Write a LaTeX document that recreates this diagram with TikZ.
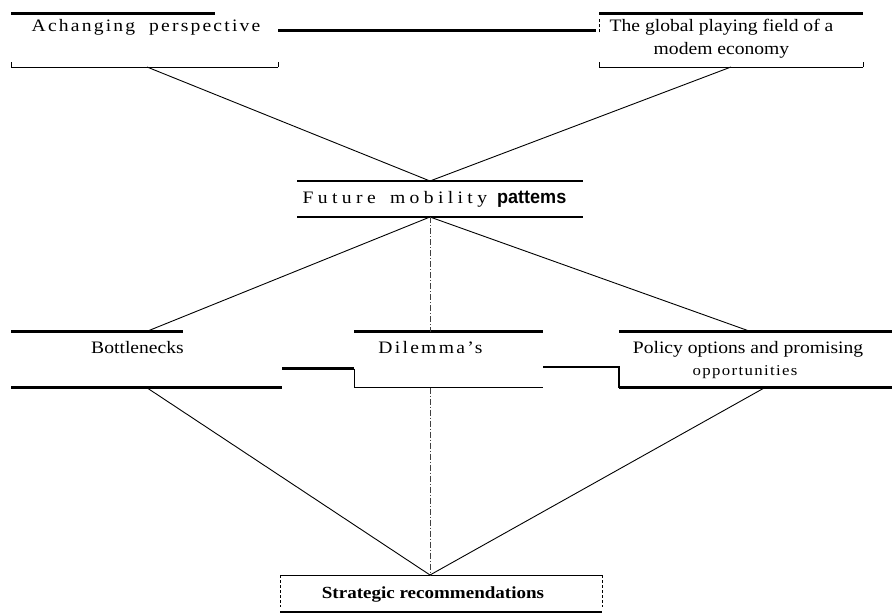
\documentclass[tikz,border=0pt]{standalone}
\usepackage{fontspec}
\setmainfont{Liberation Serif}[FakeStretch=1.12]
\newfontfamily\pattfont{Liberation Sans}[FakeStretch=0.95]

\tikzset{
  frame/.style={draw=none, rectangle, inner sep=0pt, outer sep=0pt},
  heavyrule/.style={line width=2.6pt},
  lightrule/.style={line width=0.8pt},
  tick/.style={line width=0.6pt},
  link/.style={line width=0.9pt},
  axis/.style={line width=0.5pt, black!75, dash pattern=on 6pt off 2pt on 1pt off 2pt},
  label/.style={inner sep=0pt, anchor=base, font=\fontsize{17.5}{22.6}\selectfont}
}

\begin{document}
\begin{tikzpicture}[x=1pt, y=-1pt]
  \useasboundingbox (0,0) rectangle (892,613);

  % Box frames (empty, only for anchors)
  \node[frame, minimum width=267pt, minimum height=53.5pt] (persp)   at (144.5,40.25) {};
  \node[frame, minimum width=264pt, minimum height=53.5pt] (global)  at (731,40.25) {};
  \node[frame, minimum width=286pt, minimum height=36pt]   (future)  at (440,199) {};
  \node[frame, minimum width=271pt, minimum height=56pt]   (bottle)  at (146.5,359.5) {};
  \node[frame, minimum width=189pt, minimum height=56pt]   (dilemma) at (448.5,359.5) {};
  \node[frame, minimum width=273pt, minimum height=56pt]   (policy)  at (755.5,359.5) {};
  \node[frame, minimum width=322pt, minimum height=37pt]   (strat)   at (441,593.5) {};

  % Texts
  \node[label] (persp-txt) at (146,31.7)
    {\addfontfeature{LetterSpace=12.5}Achanging\hspace{14pt}perspective};
  % (base of a two-line node sits on its last line)
  \node[label, align=center] (global-txt) at (721.5,54.3)
    {The global playing field of a\\modem economy};
  \node[label] (future-txt) at (434.5,203.3)
    {{\addfontfeature{LetterSpace=25}Future\hspace{5pt} mobility}\hspace{10pt}{\pattfont\bfseries\fontsize{19}{20}\selectfont pattems}};
  \node[label] (bottle-txt) at (137.5,353.3) {Bottlenecks};
  \node[label] (dilemma-txt) at (430.5,353.3)
    {\addfontfeature{LetterSpace=13}Dilemma's};
  \node[label] (policy-txt) at (748,353.3) {Policy options and promising};
  \node[label, font=\fontsize{15}{17}\selectfont] (policy-sub) at (745,375.7)
    {\addfontfeature{LetterSpace=9}opportunities};
  \node[label, font=\fontsize{17}{20}\selectfont\bfseries] (strat-txt) at (433,598.3)
    {Strategic recommendations};

  % Rules of the first row
  \draw[heavyrule] (persp.north west) -- ([xshift=-63pt]persp.north east);
  \draw[lightrule] (persp.south west) -- (persp.south east);
  \draw[tick] (persp.south west) -- ++(0,-5);
  \draw[tick] (persp.south east) -- ++(0,-5);
  \draw[heavyrule] ([yshift=9.75pt]persp.east) -- ([yshift=9.75pt, xshift=-3pt]global.west);
  \draw[tick, densely dashed] ([yshift=8pt]global.west) -- ([yshift=22pt]global.west);
  \draw[heavyrule] (global.north west) -- (global.north east);
  \draw[lightrule] (global.south west) -- (global.south east);
  \draw[tick] (global.south west) -- ++(0,-5);
  \draw[tick] (global.south east) -- ++(0,-5);

  % Middle box
  \draw[heavyrule] (future.north west) -- (future.north east);
  \draw[heavyrule] (future.south west) -- (future.south east);

  % Third row
  \draw[heavyrule] (bottle.north west) -- ([xshift=-99pt]bottle.north east);
  \draw[heavyrule] (bottle.south west) -- (bottle.south east);
  \draw[heavyrule] ([yshift=-9pt]bottle.east) -- ([yshift=-9pt]dilemma.west);
  \draw[heavyrule] (dilemma.north west) -- (dilemma.north east);
  \draw[lightrule] ([yshift=-9pt]dilemma.west) -- (dilemma.south west) -- (dilemma.south east);
  \draw[lightrule, line width=1.2pt] ([yshift=-7.5pt]dilemma.east)
    -- ([yshift=-7.5pt]policy.west) -- (policy.south west);
  \draw[heavyrule] (policy.north west) -- (policy.north east);
  \draw[heavyrule] (policy.south west) -- (policy.south east);

  % Bottom box
  \draw[lightrule] (strat.north west) -- (strat.north east);
  \draw[tick, densely dashed] (strat.north west) -- ([yshift=5pt]strat.south west);
  \draw[tick, densely dashed] (strat.north east) -- ([yshift=5pt]strat.south east);
  \draw[line width=1.6pt] (strat.south west) -- (strat.south east);

  % Connectors
  \draw[link] ([xshift=2.5pt]persp.south) -- ([xshift=-10pt]future.north);
  \draw[link] (global.south) -- ([xshift=-10pt]future.north);
  \draw[link] ([xshift=-10pt]future.south) -- (bottle.north);
  \draw[link] ([xshift=-10pt]future.south) -- ([xshift=-5pt]policy.north);
  \draw[axis] ([xshift=-10pt]future.south) -- ([xshift=-10pt]future.south |- dilemma.north);
  \draw[axis] ([xshift=-11pt]strat.north |- dilemma.south) -- ([xshift=-11pt]strat.north);
  \draw[link] (bottle.south) -- ([xshift=-11pt]strat.north);
  \draw[link] ([xshift=9.5pt]policy.south) -- ([xshift=-11pt]strat.north);
\end{tikzpicture}
\end{document}
